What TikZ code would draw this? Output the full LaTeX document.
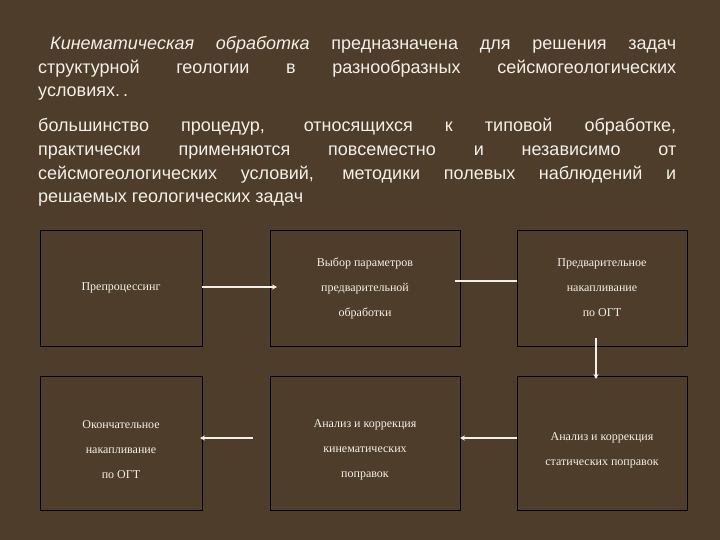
\documentclass[tikz,border=0pt]{standalone}
\usepackage{fontspec}
\usetikzlibrary{arrows.meta}
\setmainfont{Liberation Serif}
\newfontfamily\arialf{Liberation Sans}
\definecolor{bg}{HTML}{4E3D2B}
\definecolor{tx}{HTML}{F4F0E8}
\begin{document}
\begin{tikzpicture}[x=1pt,y=-1pt,
  bx/.style={draw=black,line width=0.8pt,fill=bg},
  bt/.style={text=tx,font=\fontsize{12}{25}\selectfont,align=center},
  pt/.style={text=tx,anchor=north west,inner sep=0,text width=638pt,align=justify,
  font=\arialf\fontsize{18}{23.8}\selectfont},
  ar/.style={draw=tx,line width=1.3pt,-{Stealth[length=5pt,width=5pt]}}]
\fill[bg] (0,0) rectangle (720,540);
\node[pt] (p1) at (38,36)
  {\hspace*{12pt}\textit{Кинематическая обработка} предназначена для решения задач\linebreak структурной геологии в разнообразных сейсмогеологических\linebreak условиях.\,.};
\node[pt] (p2) at (38,118)
  {большинство процедур, относящихся к типовой обработке,\linebreak практически применяются повсеместно и независимо от\linebreak сейсмогеологических условий, методики полевых наблюдений и\linebreak решаемых геологических задач};
\path[bx] (40,230) rectangle (202,346);
\path[bx] (270,230) rectangle (460,346);
\path[bx] (517,230) rectangle (687,346);
\path[bx] (40,376) rectangle (202,510);
\path[bx] (270,376) rectangle (460,510);
\path[bx] (517,376) rectangle (687,510);
\node[bt] (t1) at (121,288) {Препроцессинг};
\node[bt] (t2) at (365,288) {Выбор параметров\\предварительной\\обработки};
\node[bt] (t3) at (602,288) {Предварительное\\накапливание\\по ОГТ};
\node[bt] (t4) at (121,450) {Окончательное\\накапливание\\по ОГТ};
\node[bt] (t5) at (365,450) {Анализ и коррекция\\кинематических\\поправок};
\node[bt] (t6) at (602,450) {Анализ и коррекция\\статических поправок};
\coordinate (a1) at (202,287); \coordinate (a2) at (277,287);
\coordinate (c1) at (455,281); \coordinate (c2) at (517,281);
\coordinate (d1) at (596,338); \coordinate (d2) at (596,379);
\coordinate (e1) at (517,438); \coordinate (e2) at (460,438);
\coordinate (f1) at (253,438); \coordinate (f2) at (200,438);
\draw[ar] (a1) -- (a2);
\draw[draw=tx,line width=1.3pt] (c1) -- (c2);
\draw[ar] (d1) -- (d2);
\draw[ar] (e1) -- (e2);
\draw[ar] (f1) -- (f2);
\end{tikzpicture}
\end{document}
